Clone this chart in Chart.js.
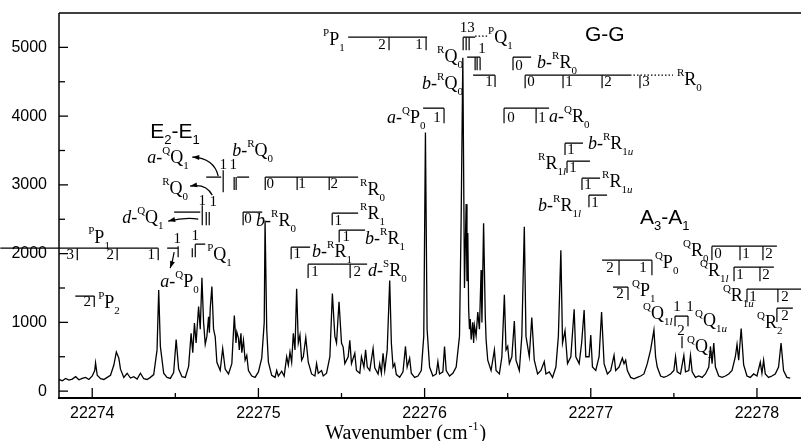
<!DOCTYPE html>
<html><head><meta charset="utf-8">
<script src="https://cdn.jsdelivr.net/npm/chart.js@4"></script>
<style>html,body{margin:0;padding:0;background:#fff}canvas{display:block}</style>
</head><body>
<canvas id="c" width="801" height="441"></canvas>
<script>
// ---- data ----
const wavenumber = [
22273.80,22273.82,22273.84,22273.86,22273.88,22273.90,22273.92,22273.94,22273.96,22273.98,
22274.00,22274.015,22274.02,22274.03,22274.05,22274.07,22274.09,22274.11,22274.13,22274.145,
22274.16,22274.17,22274.19,22274.21,22274.23,22274.25,22274.27,22274.29,22274.31,22274.33,
22274.35,22274.37,22274.39,22274.40,22274.41,22274.43,22274.45,22274.47,22274.49,22274.505,
22274.52,22274.54,22274.56,22274.58,22274.595,22274.605,22274.615,22274.625,22274.64,22274.65,
22274.66,22274.67,22274.68,22274.69,22274.70,22274.705,22274.71,22274.72,22274.73,22274.74,
22274.75,22274.77,22274.785,22274.80,22274.82,22274.84,22274.855,22274.865,22274.87,22274.88,
22274.885,22274.895,22274.90,22274.91,22274.92,22274.93,22274.94,22274.96,22274.98,22275.00,
22275.02,22275.035,22275.04,22275.05,22275.06,22275.08,22275.10,22275.11,22275.12,22275.14,
22275.155,22275.17,22275.18,22275.19,22275.20,22275.21,22275.22,22275.23,22275.24,22275.25,
22275.26,22275.27,22275.285,22275.30,22275.32,22275.34,22275.35,22275.36,22275.38,22275.39,
22275.41,22275.43,22275.445,22275.46,22275.47,22275.485,22275.50,22275.51,22275.52,22275.54,
22275.55,22275.56,22275.58,22275.59,22275.61,22275.62,22275.635,22275.645,22275.655,22275.67,
22275.69,22275.70,22275.72,22275.73,22275.74,22275.75,22275.76,22275.775,22275.79,22275.80,
22275.81,22275.82,22275.83,22275.85,22275.87,22275.885,22275.895,22275.91,22275.92,22275.94,
22275.96,22275.98,22275.995,22276.005,22276.015,22276.03,22276.05,22276.07,22276.08,22276.09,
22276.11,22276.12,22276.13,22276.15,22276.17,22276.19,22276.21,22276.22,22276.23,22276.24,
22276.25,22276.255,22276.26,22276.265,22276.27,22276.275,22276.28,22276.29,22276.295,22276.30,
22276.31,22276.32,22276.33,22276.34,22276.345,22276.355,22276.365,22276.37,22276.38,22276.40,
22276.42,22276.43,22276.45,22276.465,22276.48,22276.49,22276.50,22276.51,22276.525,22276.54,
22276.55,22276.57,22276.585,22276.60,22276.61,22276.63,22276.645,22276.66,22276.68,22276.70,
22276.72,22276.73,22276.75,22276.77,22276.79,22276.805,22276.82,22276.83,22276.845,22276.86,
22276.88,22276.90,22276.91,22276.93,22276.945,22276.96,22276.97,22276.99,22277.00,22277.01,
22277.03,22277.05,22277.065,22277.08,22277.10,22277.12,22277.14,22277.15,22277.17,22277.19,
22277.20,22277.21,22277.22,22277.24,22277.26,22277.28,22277.30,22277.32,22277.34,22277.36,
22277.38,22277.39,22277.40,22277.42,22277.44,22277.46,22277.48,22277.50,22277.51,22277.52,
22277.54,22277.56,22277.57,22277.59,22277.60,22277.61,22277.63,22277.65,22277.67,22277.69,
22277.71,22277.72,22277.73,22277.74,22277.75,22277.77,22277.79,22277.81,22277.83,22277.85,
22277.87,22277.88,22277.89,22277.905,22277.92,22277.94,22277.96,22277.98,22278.00,22278.02,
22278.03,22278.04,22278.05,22278.07,22278.09,22278.11,22278.13,22278.145,22278.16,22278.18,
22278.20
];
const intensity = [
170,150,185,160,175,210,165,185,200,170,
220,300,410,230,180,170,200,230,380,570,
480,320,200,260,190,210,175,260,180,170,
200,240,600,1470,650,260,200,185,270,750,
320,210,200,360,840,560,990,700,1230,900,
1650,1000,680,800,1080,850,1200,1520,900,790,
420,300,620,320,250,400,1100,700,860,770,
600,840,560,740,450,520,300,220,200,280,
480,1000,2480,900,420,230,200,300,220,290,
220,500,380,570,420,840,600,1490,700,815,
450,500,780,420,250,220,400,260,300,220,
260,500,1420,800,700,1300,700,640,400,500,
740,400,550,300,260,500,350,600,350,300,
620,340,250,400,260,550,300,600,1610,700,
350,400,240,200,280,650,350,480,260,200,
220,300,800,3760,900,350,220,250,430,250,
280,650,300,220,260,350,800,2500,4850,1500,
2720,1600,2300,1200,900,1050,750,1000,700,950,
800,1150,900,1760,1000,2440,1100,750,450,300,
600,300,250,500,1400,600,650,400,500,1020,
450,300,800,2390,800,500,1070,450,250,300,
430,250,280,200,350,800,2050,700,880,400,
500,1190,500,400,700,1180,500,500,815,350,
300,500,1150,400,250,300,520,300,350,480,
400,450,300,200,180,200,220,250,400,600,
890,500,350,220,200,220,250,300,500,280,
250,520,280,300,520,280,200,220,200,250,
350,650,400,700,350,220,200,220,250,300,
500,680,450,910,380,220,200,250,220,420,
260,450,250,200,220,250,350,700,300,200,
190
];
const xMajorTicks = [22274, 22275, 22276, 22277, 22278];
const xMinorTicks = [22274.5, 22275.5, 22276.5, 22277.5];
const yMajorTicks = [0, 1000, 2000, 3000, 4000, 5000];
const yMinorTicks = [500, 1500, 2500, 3500, 4500];
const xRange = [22273.80, 22278.265];
const yRange = [-100, 5500];

const SERIF = '"Liberation Serif","Times New Roman",serif';
const SANS = '"Liberation Sans",Arial,sans-serif';

function rich(ctx, x, y, s, fam, size) {
  const segs = []; let it = false; let i = 0;
  while (i < s.length) {
    const c = s[i];
    if (c === '~') { it = !it; i++; continue; }
    if (c === '^') { segs.push({t: s[i+1], m: 'sup', it: false}); i += 2; continue; }
    if (c === '_') {
      i++;
      while (i < s.length && /[0-9a-z]/.test(s[i])) { segs.push({t: s[i], m: 'sub', it: /[a-z]/.test(s[i])}); i++; }
      continue;
    }
    segs.push({t: c, m: 'n', it}); i++;
  }
  const small = Math.round(size * 0.62);
  ctx.textAlign = 'left'; ctx.textBaseline = 'alphabetic';
  let cx = x;
  for (const g of segs) {
    const sz = g.m === 'n' ? size : small;
    ctx.font = (g.it ? 'italic ' : '') + sz + 'px ' + fam;
    const dy = g.m === 'sup' ? -size * 0.5 : g.m === 'sub' ? size * 0.3 : 0;
    ctx.fillText(g.t, cx, y + dy);
    cx += ctx.measureText(g.t).width;
  }
}

const deco = {
  id: 'deco',
  afterDraw(chart) {
    const {ctx, chartArea: a, scales: {x: xs, y: ys}} = chart;
    const X = v => xs.getPixelForValue(v), Y = v => ys.getPixelForValue(v);
    ctx.save();
    ctx.strokeStyle = '#000'; ctx.fillStyle = '#000';
    const seg = (x1, y1, x2, y2, w) => { ctx.lineWidth = w; ctx.beginPath(); ctx.moveTo(x1, y1); ctx.lineTo(x2, y2); ctx.stroke(); };
    // frame
    seg(a.left, a.top, a.right, a.top, 1.5);
    seg(a.left, a.top, a.left, a.bottom, 1.5);
    seg(a.left - 1, a.bottom, a.right, a.bottom, 2);
    // ticks (inward)
    xMajorTicks.forEach(v => seg(X(v), a.bottom, X(v), a.bottom - 10, 1.3));
    xMinorTicks.forEach(v => seg(X(v), a.bottom, X(v), a.bottom - 5, 1.3));
    yMajorTicks.forEach(v => seg(a.left, Y(v), a.left + 9, Y(v), 1.3));
    yMinorTicks.forEach(v => seg(a.left, Y(v), a.left + 6, Y(v), 1.3));
    // tick labels
    ctx.font = '16px ' + SANS; ctx.textBaseline = 'middle';
    ctx.textAlign = 'center';
    xMajorTicks.forEach(v => ctx.fillText(String(v), X(v), a.bottom + 16));
    ctx.textAlign = 'right';
    yMajorTicks.forEach(v => ctx.fillText(String(v), a.left - 12, Y(v)));
    // axis title
    ctx.textBaseline = 'alphabetic';
    const t1 = 'Wavenumber (cm', t3 = ')';
    ctx.font = '20px ' + SERIF; const w1 = ctx.measureText(t1).width;
    ctx.font = '12px ' + SERIF; const w2 = ctx.measureText('-1').width;
    ctx.font = '20px ' + SERIF; const w3 = ctx.measureText(t3).width;
    const tx = X(22275.88) - (w1 + w2 + w3) / 2, ty = a.bottom + 41;
    ctx.textAlign = 'left';
    ctx.fillText(t1, tx, ty);
    ctx.font = '12px ' + SERIF; ctx.fillText('-1', tx + w1 + 1, ty - 9);
    ctx.font = '20px ' + SERIF; ctx.fillText(t3, tx + w1 + w2 + 2, ty);

    // ---- annotations (placed in data coordinates) ----
    const T = (w, I, s) => rich(ctx, X(w), Y(I), s, SERIF, 18);
    const G = (w, I, s) => rich(ctx, X(w), Y(I), s, SANS, 21);
    const N = (w, I, s) => { ctx.font = '15px ' + SERIF; ctx.textAlign = 'center'; ctx.textBaseline = 'middle'; ctx.fillText(s, X(w), Y(I)); };
    const H = (I, w1, w2, dash) => { if (dash) ctx.setLineDash([1.5, 2]); seg(X(w1), Y(I), X(w2), Y(I), 1.3); ctx.setLineDash([]); };
    const V = (w, I1, I2) => seg(X(w), Y(I1), X(w), Y(I2), 1.2);
    const A = (w1, I1, wc, Ic, w2, I2) => {
      const x1 = X(w1), y1 = Y(I1), xc = X(wc), yc = Y(Ic), x2 = X(w2), y2 = Y(I2);
      ctx.lineWidth = 1.2; ctx.beginPath(); ctx.moveTo(x1, y1); ctx.quadraticCurveTo(xc, yc, x2, y2); ctx.stroke();
      const ang = Math.atan2(y2 - yc, x2 - xc);
      ctx.beginPath(); ctx.moveTo(x2, y2);
      ctx.lineTo(x2 - 7 * Math.cos(ang) + 2.5 * Math.sin(ang), y2 - 7 * Math.sin(ang) - 2.5 * Math.cos(ang));
      ctx.lineTo(x2 - 7 * Math.cos(ang) - 2.5 * Math.sin(ang), y2 - 7 * Math.sin(ang) + 2.5 * Math.cos(ang));
      ctx.closePath(); ctx.fill();
    };

    // E2-E1 group
    G(22274.349, 3680, 'E_2-E_1');
    T(22274.331, 3316, '~a-~^QQ_1');
    A(22274.758, 3127, 22274.734, 3389, 22274.602, 3404);
    T(22274.842, 3418, '~b-~^RQ_0');
    H(3113, 22274.686, 22274.776); V(22274.788, 3214, 2894);
    V(22274.854, 3113, 2924); V(22274.866, 3113, 2924); H(3113, 22274.872, 22274.944);
    N(22274.788, 3287, '1'); N(22274.848, 3287, '1');
    H(3113, 22275.041, 22275.600);
    V(22275.041, 3113, 2924); V(22275.233, 3113, 2924); V(22275.426, 3113, 2924);
    N(22275.071, 3011, '0'); N(22275.263, 3011, '1'); N(22275.456, 3011, '2');
    T(22275.612, 2851, '^RR_0');
    T(22274.421, 2865, '^RQ_0');
    A(22274.722, 2851, 22274.686, 3025, 22274.589, 2982);
    H(2604, 22274.493, 22274.650); V(22274.662, 2705, 2414); V(22274.686, 2604, 2414); V(22274.704, 2604, 2414);
    N(22274.662, 2764, '1'); N(22274.728, 2749, '1');
    T(22274.180, 2444, '~d-~^QQ_1');
    A(22274.638, 2502, 22274.559, 2531, 22274.457, 2473);
    V(22274.908, 2604, 2414); H(2604, 22274.908, 22275.023); N(22274.938, 2502, '0');
    T(22274.986, 2400, '~b-~^RR_0');
    T(22273.976, 2153, '^PP_1');
    H(2080, 22273.447, 22274.397);
    V(22273.910, 2080, 1905); V(22274.150, 2080, 1905); V(22274.397, 2080, 1905);
    N(22273.868, 1978, '3'); N(22274.108, 1978, '2'); N(22274.355, 1978, '1');
    H(2080, 22274.451, 22274.517); V(22274.517, 2109, 1949); N(22274.511, 2211, '1');
    V(22274.602, 2080, 1949); V(22274.620, 2138, 1949); H(2138, 22274.620, 22274.680); N(22274.620, 2254, '1');
    T(22274.692, 1905, '^PQ_1');
    A(22274.493, 2022, 22274.485, 1900, 22274.469, 1789);
    T(22274.409, 1513, '~a-~^QP_0');
    H(1382, 22273.898, 22274.012); V(22274.012, 1382, 1222); N(22273.970, 1294, '2');
    T(22274.036, 1207, '^PP_2');
    // R-branch brackets middle
    H(2589, 22275.444, 22275.600); V(22275.444, 2589, 2414); N(22275.480, 2473, '1');
    T(22275.612, 2502, '^RR_1');
    H(2342, 22275.486, 22275.642); V(22275.486, 2342, 2167); N(22275.528, 2240, '1');
    T(22275.642, 2138, '~b-~^RR_1');
    H(2094, 22275.197, 22275.311); V(22275.197, 2094, 1920); N(22275.233, 1993, '1');
    T(22275.323, 1949, '~b-~^RR_1');
    H(1847, 22275.299, 22275.654); V(22275.299, 1847, 1644); V(22275.552, 1847, 1644);
    N(22275.341, 1731, '1'); N(22275.594, 1731, '2');
    T(22275.660, 1673, '~d-~^SR_0');
    // centre
    T(22275.389, 5033, '^PP_1');
    H(5149, 22275.540, 22276.015); V(22275.786, 5149, 4960); V(22276.009, 5149, 4960);
    N(22275.744, 5033, '2'); N(22275.967, 5033, '1');
    T(22275.774, 3898, '~a-~^QP_0');
    H(4116, 22275.991, 22276.117); V(22276.117, 4116, 3898); N(22276.075, 3971, '1');
    N(22276.256, 5280, '13');
    H(5149, 22276.232, 22276.304); V(22276.232, 5149, 4960); V(22276.250, 5149, 4960); V(22276.268, 5149, 4960);
    H(5164, 22276.304, 22276.382, true);
    T(22276.382, 5062, '^PQ_1');
    N(22276.346, 4974, '1');
    H(4858, 22276.256, 22276.334); V(22276.304, 4858, 4669); V(22276.316, 4858, 4669); V(22276.334, 4858, 4669);
    T(22276.075, 4785, '^RQ_0');
    T(22275.985, 4393, '~b-~^RQ_0');
    H(4596, 22276.292, 22276.424); V(22276.424, 4596, 4422); N(22276.388, 4494, '1');
    // G-G group
    G(22276.965, 5091, 'G-G');
    H(4858, 22276.532, 22276.641); V(22276.532, 4858, 4669); N(22276.568, 4727, '0');
    T(22276.677, 4698, '~b-~^RR_0');
    H(4596, 22276.605, 22277.236); H(4596, 22277.236, 22277.495, true);
    V(22276.605, 4596, 4407); V(22276.833, 4596, 4407); V(22277.068, 4596, 4407); V(22277.296, 4596, 4407);
    N(22276.641, 4494, '0'); N(22276.869, 4494, '1'); N(22277.104, 4494, '2'); N(22277.332, 4494, '3');
    T(22277.519, 4451, '^RR_0');
    H(4116, 22276.478, 22276.749); V(22276.478, 4116, 3898); V(22276.671, 4116, 3898);
    N(22276.520, 3971, '0'); N(22276.707, 3971, '1');
    T(22276.749, 3913, '~a-~^QR_0');
    H(3607, 22276.845, 22276.953); V(22276.845, 3607, 3433); N(22276.881, 3505, '1');
    T(22276.983, 3520, '~b-~^RR_1u');
    T(22276.683, 3229, '^RR_1l');
    H(3345, 22276.857, 22276.995); V(22276.857, 3345, 3171); N(22276.893, 3244, '1');
    H(3098, 22276.947, 22277.056); V(22276.947, 3098, 2924); N(22276.983, 2996, '1');
    T(22277.068, 2967, '^RR_1u');
    T(22276.683, 2618, '~b-~^RR_1l');
    H(2851, 22276.989, 22277.098); V(22276.989, 2851, 2676); N(22277.026, 2734, '1');
    // A3-A1 group
    G(22277.296, 2429, 'A_3-A_1');
    T(22277.555, 1964, '^QR_0');
    H(2109, 22277.729, 22278.120); V(22277.729, 2109, 1905); V(22277.898, 2109, 1905); V(22278.036, 2109, 1905);
    N(22277.765, 1993, '0'); N(22277.934, 1993, '1'); N(22278.072, 1993, '2');
    T(22277.657, 1673, '^QR_1l');
    H(1804, 22277.862, 22278.102); V(22277.862, 1804, 1600); V(22278.018, 1804, 1600);
    N(22277.898, 1687, '1'); N(22278.054, 1687, '2');
    T(22277.795, 1309, '^QR_1u');
    H(1484, 22277.940, 22278.265); V(22277.940, 1484, 1294); V(22278.126, 1484, 1294);
    N(22277.976, 1367, '1'); N(22278.168, 1367, '2');
    T(22278.000, 916, '^QR_2');
    H(1207, 22278.120, 22278.216); V(22278.120, 1207, 1004); N(22278.168, 1091, '2');
    H(1905, 22277.068, 22277.368); V(22277.170, 1905, 1687); V(22277.368, 1905, 1687);
    N(22277.116, 1789, '2'); N(22277.314, 1789, '1');
    T(22277.386, 1789, '^QP_0');
    H(1513, 22277.134, 22277.224); V(22277.224, 1513, 1324); N(22277.176, 1411, '2');
    T(22277.248, 1382, '^QP_1');
    T(22277.314, 1047, '^QQ_1l');
    H(1091, 22277.507, 22277.585); V(22277.507, 1091, 945); V(22277.585, 1091, 945);
    N(22277.519, 1222, '1'); N(22277.597, 1222, '1'); N(22277.543, 873, '2');
    V(22277.549, 800, 625);
    T(22277.627, 945, '^QQ_1u');
    T(22277.579, 567, '^QQ_2');
    ctx.restore();
  }
};

new Chart(document.getElementById('c'), {
  type: 'line',
  data: {
    datasets: [{
      data: wavenumber.map((w, i) => ({x: w, y: intensity[i]})),
      borderColor: '#000', borderWidth: 1.3, pointRadius: 0, fill: false, tension: 0
    }]
  },
  options: {
    responsive: false, animation: false,
    layout: {padding: {top: 13, right: 0, left: 0, bottom: 0}},
    plugins: {legend: {display: false}, tooltip: {enabled: false}},
    scales: {
      x: {type: 'linear', min: xRange[0], max: xRange[1],
          grid: {display: false}, border: {display: false}, ticks: {display: false},
          afterFit(s) { s.height = 43; }},
      y: {min: yRange[0], max: yRange[1],
          grid: {display: false}, border: {display: false}, ticks: {display: false},
          afterFit(s) { s.width = 59; }}
    }
  },
  plugins: [deco]
});
</script>
</body></html>
